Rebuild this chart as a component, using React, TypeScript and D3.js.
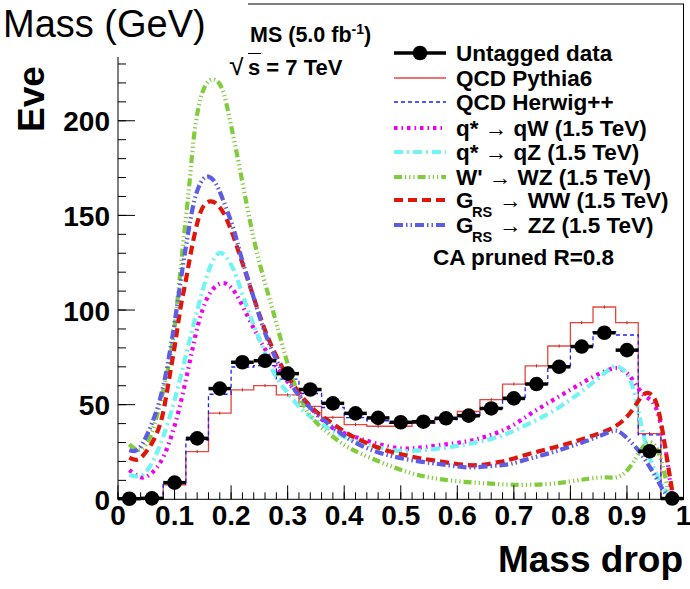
import React from 'react';
import * as d3 from 'd3';

// Mass-drop binning (25 bins of 0.04)
const binEdges = [
  0.0, 0.04, 0.08, 0.12, 0.16, 0.2, 0.24, 0.28, 0.32, 0.36, 0.4, 0.44, 0.48,
  0.52, 0.56, 0.6, 0.64, 0.68, 0.72, 0.76, 0.8, 0.84, 0.88, 0.92, 0.96, 1.0,
];

// Untagged data, events per bin
const dataCounts = [
  0.3, 0.5, 8.8, 32.2, 58.5, 72.4, 73.2, 66.4, 58, 50.7, 45.4, 43, 40.7, 41,
  42.8, 44.2, 48, 53.3, 60.9, 70, 80.7, 88, 78.8, 25.4, 0.4,
];

// QCD simulations, events per bin
const pythiaCounts = [
  0.3, 0.3, 7.6, 25.2, 45.5, 57.8, 60.1, 55.2, 49.1, 43.3, 39.5, 38.6, 38.6,
  40.1, 42.6, 46.4, 52.7, 60.9, 70.5, 81, 93.3, 101.6, 93.3, 34.7, 0,
];
const herwigCounts = [
  0.3, 0.3, 9, 31.3, 55.5, 69.9, 70.6, 63.5, 55.9, 48.5, 43.2, 41.5, 40.1,
  40.3, 42.1, 43.5, 48, 53.9, 60.9, 70.5, 81, 88.6, 86.8, 34, 0,
];

// Signal shapes, [mass drop, events]
const qStarQW: [number, number][] = [
  [0.02, 15.4], [0.035, 12], [0.045, 11], [0.06, 13.5], [0.075, 19], [0.089, 27.7],
  [0.107, 45.3], [0.125, 69.8], [0.139, 90], [0.15, 101], [0.16, 108.4],
  [0.175, 113.7], [0.189, 114.8], [0.201, 112], [0.213, 106.7], [0.233, 94.4],
  [0.257, 80.4], [0.28, 69.8], [0.307, 59.3], [0.334, 50.5], [0.36, 42],
  [0.38, 37], [0.416, 33.2], [0.457, 29.3], [0.498, 26.5], [0.522, 26.8],
  [0.569, 28.6], [0.616, 30.3], [0.651, 33], [0.692, 37.4], [0.728, 45],
  [0.763, 51.4], [0.798, 57.5], [0.833, 63.7], [0.869, 69], [0.886, 69.8],
  [0.904, 66.3], [0.922, 57.5], [0.933, 54], [0.945, 52.3], [0.954, 47],
  [0.961, 38.2], [0.969, 26], [0.975, 11.9], [0.98, 1],
];
const qStarQZ: [number, number][] = [
  [0.02, 13], [0.035, 11.5], [0.05, 14], [0.06, 19], [0.07, 25], [0.08, 33],
  [0.09, 42], [0.1, 52], [0.11, 64], [0.12, 76], [0.13, 88], [0.14, 100],
  [0.15, 111], [0.16, 121], [0.17, 128], [0.18, 131], [0.19, 129],
  [0.204, 122.5], [0.216, 112], [0.228, 101.4], [0.239, 92.6], [0.251, 84],
  [0.263, 75], [0.275, 67], [0.286, 61.5], [0.298, 57], [0.31, 52.5],
  [0.324, 47.5], [0.339, 44], [0.37, 37.5], [0.41, 31.2], [0.457, 27.7],
  [0.498, 25], [0.545, 26], [0.592, 27.7], [0.639, 30.3], [0.675, 33],
  [0.692, 35.2], [0.728, 40], [0.763, 45.3], [0.798, 52], [0.822, 57.5],
  [0.845, 62.8], [0.869, 69], [0.88, 71], [0.892, 69], [0.904, 65.4],
  [0.916, 54], [0.922, 43.5], [0.93, 33], [0.939, 22.4], [0.951, 13.7],
  [0.963, 6.6], [0.975, 1.4],
];
const wPrimeWZ: [number, number][] = [
  [0.02, 29], [0.035, 25], [0.05, 28], [0.06, 35], [0.07, 45], [0.08, 57],
  [0.09, 71], [0.1, 88], [0.113, 129.5], [0.122, 154], [0.128, 171.6],
  [0.133, 190], [0.142, 208.6], [0.154, 220], [0.169, 223], [0.1835, 219],
  [0.192, 209], [0.201, 196], [0.21, 183], [0.219, 169], [0.228, 155],
  [0.236, 143], [0.245, 131], [0.257, 117], [0.27, 104], [0.28, 93],
  [0.292, 80], [0.304, 67], [0.322, 53], [0.339, 44], [0.357, 38.5],
  [0.38, 33], [0.404, 27.7], [0.428, 24.2], [0.469, 19], [0.516, 13.7],
  [0.557, 11], [0.604, 9.3], [0.651, 8.4], [0.7, 7.5], [0.76, 7.8],
  [0.798, 9.3], [0.833, 11], [0.863, 11.9], [0.88, 11], [0.898, 13.7],
  [0.916, 21.6], [0.927, 27.7], [0.939, 31], [0.95, 29], [0.96, 22.4],
  [0.969, 10], [0.976, 0.5],
];
const gravitonWW: [number, number][] = [
  [0.02, 22], [0.035, 20], [0.045, 23.3], [0.057, 27.7], [0.069, 34.7],
  [0.078, 42.6], [0.084, 52.3], [0.089, 61], [0.095, 71.6], [0.104, 87.4],
  [0.11, 101.4], [0.119, 113.7], [0.125, 124], [0.131, 134], [0.142, 149],
  [0.151, 155.8], [0.163, 158], [0.175, 156.5], [0.187, 151.5],
  [0.198, 144], [0.207, 136.5], [0.216, 128.5], [0.224, 121], [0.233, 113],
  [0.245, 102], [0.257, 91.5], [0.269, 82.5], [0.28, 75.5], [0.29, 70],
  [0.3, 65], [0.32, 56], [0.345, 47], [0.38, 40], [0.404, 34.7], [0.44, 29.5],
  [0.48, 25], [0.51, 23.3], [0.533, 21.6], [0.575, 19.8], [0.616, 17.8],
  [0.645, 18], [0.675, 19.8], [0.692, 20.7], [0.728, 24.2], [0.763, 26.8],
  [0.798, 29.5], [0.833, 33], [0.869, 36.5], [0.892, 40.8], [0.91, 47],
  [0.922, 53], [0.933, 57], [0.945, 55.5], [0.954, 50.5], [0.963, 36.5],
  [0.972, 19], [0.978, 8.4], [0.982, 0.5],
];
const gravitonZZ: [number, number][] = [
  [0.02, 26], [0.03, 25], [0.04, 27.5], [0.05, 33], [0.06, 40], [0.07, 48],
  [0.078, 57], [0.086, 68], [0.092, 78.6], [0.098, 89], [0.104, 101],
  [0.11, 113.7], [0.116, 126], [0.122, 137], [0.128, 148], [0.135, 158.5],
  [0.142, 165], [0.151, 170], [0.16, 171], [0.169, 169], [0.1775, 164.5],
  [0.186, 158], [0.195, 151], [0.204, 143.5], [0.21, 137],
  [0.216, 130], [0.222, 124], [0.233, 113.5], [0.245, 101.4], [0.257, 90],
  [0.269, 81], [0.28, 73.5], [0.292, 66.5], [0.307, 60], [0.322, 54],
  [0.334, 50], [0.357, 43.5], [0.38, 38], [0.41, 31.2], [0.44, 26.8],
  [0.475, 23.3], [0.516, 20.7], [0.557, 19], [0.586, 18], [0.616, 16.5],
  [0.645, 17.2], [0.675, 18], [0.692, 18.3], [0.728, 21.6], [0.763, 24.2],
  [0.798, 27.7], [0.833, 31.2], [0.869, 35.6], [0.883, 37], [0.898, 33],
  [0.916, 27.7], [0.933, 20.7], [0.951, 11.9], [0.963, 4.9], [0.975, 0.5],
];

// Axis tick labels
const xTickLabels = ['0', '0.1', '0.2', '0.3', '0.4', '0.5', '0.6', '0.7', '0.8', '0.9', '1'];
const yTickLabels = [0, 50, 100, 150, 200];

const FONT = "'Liberation Sans', Arial, Helvetica, sans-serif";

const signalStyles = [
  { key: 'qW', data: qStarQW, color: '#f000f0', dash: '3.5 4 1.5 4' },
  { key: 'qZ', data: qStarQZ, color: '#70f4f4', dash: '9 4 2 4' },
  { key: 'WZ', data: wPrimeWZ, color: '#80cc3a', dash: '8 3 1.2 3 1.2 3 1.2 3' },
  { key: 'WW', data: gravitonWW, color: '#e0160a', dash: '9 5' },
  { key: 'ZZ', data: gravitonZZ, color: '#5c5ce4', dash: '9 3 1.5 3 1.5 3' },
];

export default function App() {
  const x = d3.scaleLinear().domain([0, 1]).range([118, 683.5]);
  const y = d3.scaleLinear().domain([0, 261.7]).range([499.3, 4]);
  const left = x(0);
  const right = x(1);
  const bottom = y(0);
  const top = y(261.7);

  const stepLine = d3
    .line<[number, number]>()
    .x((d) => x(d[0]))
    .y((d) => y(d[1]))
    .curve(d3.curveStepAfter);
  const histPoints = (vals: number[]): [number, number][] => [
    ...vals.map((v, i) => [binEdges[i], v] as [number, number]),
    [binEdges[binEdges.length - 1], vals[vals.length - 1]],
  ];
  const smooth = d3
    .line<[number, number]>()
    .x((d) => x(d[0]))
    .y((d) => y(d[1]))
    .curve(d3.curveBasis);

  const xMajor = x.ticks(10);
  const xMinor = x.ticks(50);
  const yMajor = d3.range(0, 262, 50);
  const yMinor = d3.range(0, 262, 10);

  const centers = dataCounts.map((_, i) => (binEdges[i] + binEdges[i + 1]) / 2);

  // legend geometry
  const legX0 = 394;
  const legX1 = 446;
  const legText = 456;
  const legRows = [53, 78, 102, 128, 152, 177, 200, 225];
  const legFont = 22.5;

  return (
    <svg
      width={690}
      height={589}
      style={{ position: 'absolute', left: 0, top: 0, background: '#fff' }}
      fontFamily={FONT}
    >
      <rect x={0} y={0} width={690} height={589} fill="#fff" />

      {/* QCD histograms */}
      <path d={stepLine(histPoints(pythiaCounts)) || ''} fill="none" stroke="#e8453c" strokeWidth={1.3} />
      {pythiaCounts.map((v, i) =>
        v > 1 ? (
          <line key={'pe' + i} x1={x(centers[i])} x2={x(centers[i])} y1={y(v) - 1.6} y2={y(v) + 1.6} stroke="#b03030" strokeWidth={1} />
        ) : null
      )}
      <path d={stepLine(histPoints(herwigCounts)) || ''} fill="none" stroke="#1f1fff" strokeWidth={1.3} strokeDasharray="4 3" />

      {/* signal shapes */}
      {signalStyles.map((s) => (
        <path key={s.key} d={smooth(s.data) || ''} fill="none" stroke={s.color} strokeWidth={4.2} strokeDasharray={s.dash} />
      ))}

      {/* data */}
      {dataCounts.map((v, i) => (
        <g key={'d' + i}>
          <line x1={x(binEdges[i])} x2={x(binEdges[i + 1])} y1={y(v)} y2={y(v)} stroke="#000" strokeWidth={3.5} />
          <circle cx={x(centers[i])} cy={y(v)} r={7.3} fill="#000" />
        </g>
      ))}

      {/* frame */}
      <rect x={left} y={top} width={right - left} height={bottom - top} fill="none" stroke="#000" strokeWidth={1} />

      {/* x axis ticks */}
      {xMinor.map((t, i) => (
        <line key={'xm' + i} x1={x(t)} x2={x(t)} y1={bottom} y2={bottom - 7} stroke="#000" strokeWidth={1} />
      ))}
      {xMajor.map((t, i) => (
        <line key={'xM' + i} x1={x(t)} x2={x(t)} y1={bottom} y2={bottom - 14} stroke="#000" strokeWidth={1} />
      ))}
      {xMajor.map((t, i) => (
        <text key={'xl' + i} x={x(t)} y={525} textAnchor="middle" fontSize={28} fontWeight="bold">
          {xTickLabels[i]}
        </text>
      ))}

      {/* y axis ticks */}
      {yMinor.map((t, i) => (
        <line key={'ym' + i} x1={left} x2={left + 8} y1={y(t)} y2={y(t)} stroke="#000" strokeWidth={1} />
      ))}
      {yMajor.map((t, i) => (
        <line key={'yM' + i} x1={left} x2={left + 17} y1={y(t)} y2={y(t)} stroke="#000" strokeWidth={1} />
      ))}
      {yTickLabels.map((t) => (
        <text key={'yl' + t} x={110} y={y(t) + 10.5} textAnchor="end" fontSize={28} fontWeight="bold">
          {t}
        </text>
      ))}

      {/* axis titles */}
      <text x={683} y={572} textAnchor="end" fontSize={37} fontWeight="bold">
        Mass drop
      </text>
      <text transform="translate(44,132) rotate(-90)" fontSize={37} fontWeight="bold">
        Eve
      </text>

      {/* legend */}
      <line x1={legX0} x2={legX1} y1={legRows[0]} y2={legRows[0]} stroke="#000" strokeWidth={3.5} />
      <circle cx={(legX0 + legX1) / 2} cy={legRows[0]} r={7.3} fill="#000" />
      <line x1={legX0} x2={legX1} y1={legRows[1]} y2={legRows[1]} stroke="#e8453c" strokeWidth={1.3} />
      <line x1={legX0} x2={legX1} y1={legRows[2]} y2={legRows[2]} stroke="#1f1fff" strokeWidth={1.3} strokeDasharray="4 3" />
      {signalStyles.map((s, i) => (
        <line key={'ls' + s.key} x1={legX0} x2={legX1} y1={legRows[i + 3]} y2={legRows[i + 3]} stroke={s.color} strokeWidth={4.2} strokeDasharray={s.dash} />
      ))}
      <g fontSize={legFont} fontWeight="bold">
        <text x={legText} y={legRows[0] + 8}>Untagged data</text>
        <text x={legText} y={legRows[1] + 8}>QCD Pythia6</text>
        <text x={legText} y={legRows[2] + 8}>QCD Herwig++</text>
        <text x={legText} y={legRows[3] + 8}>
          q* <tspan fontWeight="normal">→</tspan> qW (1.5 TeV)
        </text>
        <text x={legText} y={legRows[4] + 8}>
          q* <tspan fontWeight="normal">→</tspan> qZ (1.5 TeV)
        </text>
        <text x={legText} y={legRows[5] + 8}>
          W' <tspan fontWeight="normal">→</tspan> WZ (1.5 TeV)
        </text>
        <text x={legText} y={legRows[6] + 8}>G</text>
        <text x={472} y={legRows[6] + 16.5} fontSize={14.5}>RS</text>
        <text x={499} y={legRows[6] + 8}>
          <tspan fontWeight="normal">→</tspan> WW (1.5 TeV)
        </text>
        <text x={legText} y={legRows[7] + 8}>G</text>
        <text x={472} y={legRows[7] + 16.5} fontSize={14.5}>RS</text>
        <text x={499} y={legRows[7] + 8}>
          <tspan fontWeight="normal">→</tspan> ZZ (1.5 TeV)
        </text>
        <text x={433} y={265}>CA pruned R=0.8</text>
      </g>

      {/* energy / luminosity labels */}
      <text x={250} y={42} fontSize={21.5} fontWeight="bold">
        MS (5.0 fb<tspan dy={-8} fontSize={14}>-1</tspan><tspan dy={8}>)</tspan>
      </text>
      <text x={229} y={75} fontSize={22} fontWeight="bold">
        <tspan fontWeight="normal" fontSize={29}>√</tspan>
        <tspan x={248}>s = 7 TeV</tspan>
      </text>
      <line x1={247} x2={261} y1={53.5} y2={53.5} stroke="#000" strokeWidth={1} />

      {/* title pad */}
      <rect x={0} y={0} width={248} height={57} fill="#fff" />
      <text x={3} y={37} fontSize={38}>
        Mass (GeV)
      </text>
    </svg>
  );
}
